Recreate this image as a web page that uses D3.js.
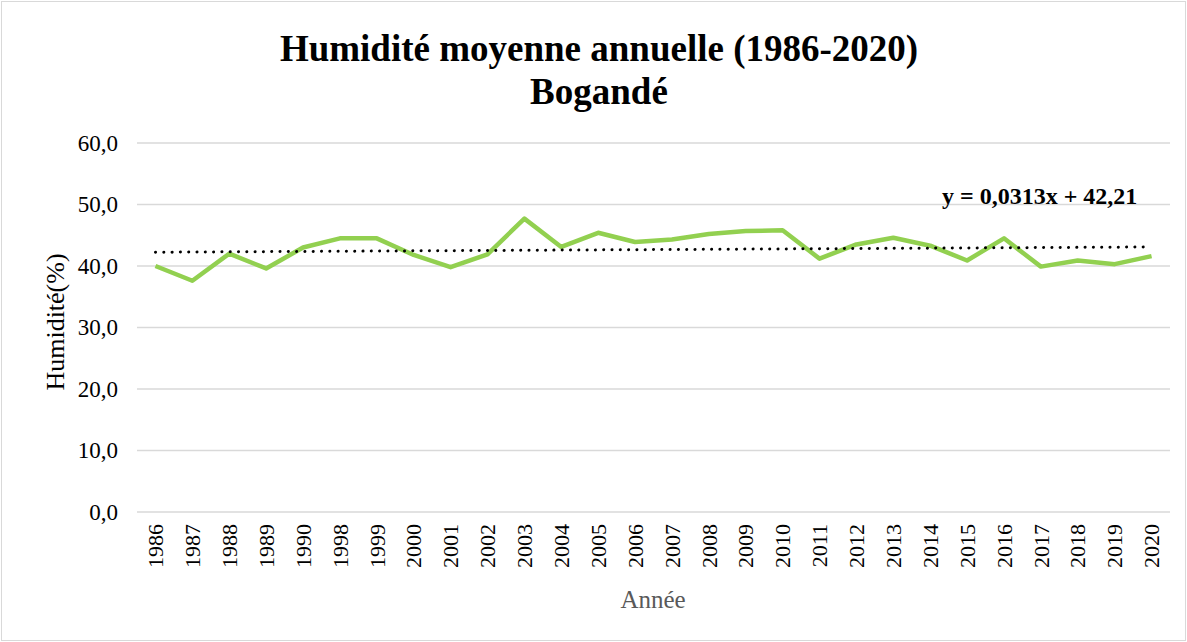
<!DOCTYPE html>
<html>
<head>
<meta charset="utf-8">
<script src="https://cdn.jsdelivr.net/npm/d3@7"></script>
<style>
  body { margin: 0; background: #fff; }
  text { font-family: "Liberation Serif", "Times New Roman", serif; }
</style>
</head>
<body>
<div id="chart"></div>
<script>
// data
var years = ["1986", "1987", "1988", "1989", "1990", "1998", "1999", "2000", "2001", "2002",
  "2003", "2004", "2005", "2006", "2007", "2008", "2009", "2010", "2011", "2012",
  "2013", "2014", "2015", "2016", "2017", "2018", "2019", "2020"];
var humidity = [40.0, 37.6, 42.0, 39.6, 43.0, 44.5, 44.5, 41.8, 39.8, 41.9,
  47.7, 43.1, 45.4, 43.9, 44.3, 45.2, 45.7, 45.8, 41.2, 43.5,
  44.6, 43.3, 40.9, 44.5, 39.9, 40.9, 40.3, 41.6];
var yTicks = [0, 10, 20, 30, 40, 50, 60];
var trendSlope = 0.0313;
var trendIntercept = 42.21;

var svgWidth = 1187;
var svgHeight = 642;

var margin = { top: 143, right: 17, bottom: 130, left: 137 };
var width = svgWidth - margin.left - margin.right;
var height = svgHeight - margin.top - margin.bottom;

var fmt = function(v) { return d3.format(".1f")(v).replace(".", ","); };

var svg = d3.select("#chart")
  .append("svg")
  .attr("width", svgWidth)
  .attr("height", svgHeight);

// outer border
svg.append("rect")
  .attr("x", 1.5).attr("y", 1.5)
  .attr("width", svgWidth - 3).attr("height", svgHeight - 3)
  .attr("fill", "#fff")
  .attr("stroke", "#d9d9d9");

var chartGroup = svg.append("g")
  .attr("transform", `translate(${margin.left}, ${margin.top})`);

var x = d3.scaleBand()
  .domain(years)
  .range([0, width]);

var y = d3.scaleLinear()
  .domain([0, 60])
  .range([height, 0]);

// gridlines
chartGroup.selectAll(".grid")
  .data(yTicks)
  .enter()
  .append("line")
  .attr("x1", 0)
  .attr("x2", width)
  .attr("y1", d => y(d))
  .attr("y2", d => y(d))
  .attr("stroke", "#d9d9d9")
  .attr("stroke-width", 1.5);

// y axis labels
var leftAxis = d3.axisLeft(y).tickValues(yTicks).tickFormat(fmt).tickSize(0).tickPadding(19);
var yAxisG = chartGroup.append("g").call(leftAxis);
yAxisG.select(".domain").remove();
yAxisG.selectAll("text")
  .attr("font-size", "23px")
  .attr("fill", "#000")
  .attr("font-family", "Liberation Serif, serif");

// x axis labels
var bottomAxis = d3.axisBottom(x).tickSize(0).tickPadding(0);
var xAxisG = chartGroup.append("g")
  .attr("transform", `translate(0, ${height})`)
  .call(bottomAxis);
xAxisG.select(".domain").remove();
xAxisG.selectAll("text")
  .attr("font-size", "22px")
  .attr("fill", "#000")
  .attr("font-family", "Liberation Serif, serif")
  .attr("transform", "rotate(-90)")
  .attr("text-anchor", "end")
  .attr("x", -12)
  .attr("y", 0)
  .attr("dy", "0.35em");

// data line
var line = d3.line()
  .x((d, i) => x(years[i]) + x.bandwidth() / 2)
  .y(d => y(d));

chartGroup.append("path")
  .datum(humidity)
  .attr("fill", "none")
  .attr("stroke", "#92d050")
  .attr("stroke-width", 4.5)
  .attr("stroke-linejoin", "round")
  .attr("d", line);

// linear trend
var trendData = [1, years.length].map(function(n) {
  return { year: years[n - 1], value: trendSlope * n + trendIntercept };
});
chartGroup.append("line")
  .attr("x1", x(trendData[0].year) + x.bandwidth() / 2)
  .attr("x2", x(trendData[1].year) + x.bandwidth() / 2 - 8)
  .attr("y1", y(trendData[0].value))
  .attr("y2", y(trendData[1].value))
  .attr("stroke", "#000")
  .attr("stroke-width", 3)
  .attr("stroke-linecap", "round")
  .attr("stroke-dasharray", "0.1 8.2");

// equation
chartGroup.append("text")
  .attr("x", 805)
  .attr("y", 61)
  .attr("font-size", "24px")
  .attr("font-weight", "bold")
  .text("y = " + d3.format(".4f")(trendSlope).replace(".", ",") + "x + " + d3.format(".2f")(trendIntercept).replace(".", ","));

// titles
svg.append("text")
  .attr("x", 599)
  .attr("y", 61)
  .attr("text-anchor", "middle")
  .attr("font-size", "37px")
  .attr("font-weight", "bold")
  .text("Humidité moyenne annuelle (1986-2020)");

svg.append("text")
  .attr("x", 599)
  .attr("y", 104)
  .attr("text-anchor", "middle")
  .attr("font-size", "37px")
  .attr("font-weight", "bold")
  .text("Bogandé");

// axis titles
svg.append("text")
  .attr("transform", "rotate(-90)")
  .attr("x", -322)
  .attr("y", 64)
  .attr("text-anchor", "middle")
  .attr("font-size", "26px")
  .text("Humidité(%)");

svg.append("text")
  .attr("x", 653)
  .attr("y", 608)
  .attr("text-anchor", "middle")
  .attr("font-size", "25px")
  .attr("fill", "#595959")
  .text("Année");
</script>
</body>
</html>
